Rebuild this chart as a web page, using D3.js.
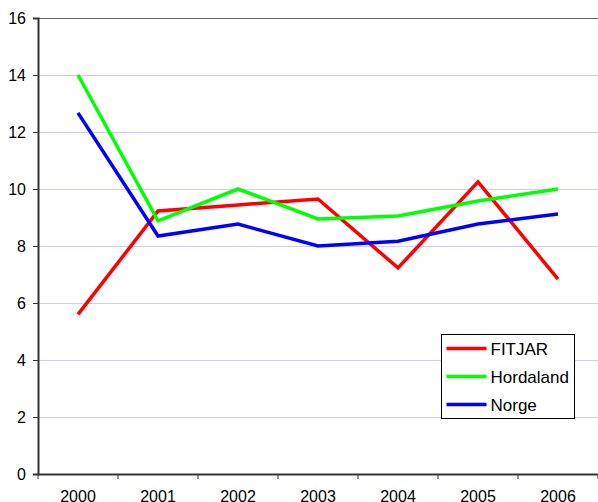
<!DOCTYPE html>
<html>
<head>
<meta charset="utf-8">
<script src="https://cdn.jsdelivr.net/npm/d3@7"></script>
<style>
  body { margin: 0; background: #fff; }
  svg { display: block; }
  svg text { font-family: "Liberation Sans", Arial, sans-serif; }
</style>
</head>
<body>
<svg></svg>
<script>
const years = ["2000", "2001", "2002", "2003", "2004", "2005", "2006"];
const fitjar = [5.6, 9.23, 9.44, 9.65, 7.23, 10.25, 6.84];
const hordaland = [14.0, 8.88, 10.0, 8.95, 9.05, 9.58, 10.0];
const norge = [12.67, 8.35, 8.77, 8.0, 8.17, 8.77, 9.12];
const yTicks = [0, 2, 4, 6, 8, 10, 12, 14, 16];

const series = [
  { name: "FITJAR", values: fitjar, color: "#ff0000" },
  { name: "Hordaland", values: hordaland, color: "#00ff00" },
  { name: "Norge", values: norge, color: "#0000ff" }
];

const svgWidth = 598;
const svgHeight = 502;
const margin = { top: 18, right: 0, bottom: 28, left: 38 };
const width = svgWidth - margin.left - margin.right;
const height = svgHeight - margin.top - margin.bottom;

const svg = d3.select("svg")
  .attr("width", svgWidth)
  .attr("height", svgHeight);

const g = svg.append("g")
  .attr("transform", "translate(" + margin.left + "," + margin.top + ")");

const xScale = d3.scaleBand()
  .domain(years)
  .range([0, width])
  .padding(0);

const yScale = d3.scaleLinear()
  .domain([0, 16])
  .range([height, 0]);

// gridlines
g.append("g")
  .selectAll("line")
  .data(yTicks.filter((d) => d > 0 && d < 16))
  .join("line")
  .attr("x1", 0)
  .attr("x2", width)
  .attr("y1", (d) => Math.round(yScale(d)) + 0.5)
  .attr("y2", (d) => Math.round(yScale(d)) + 0.5)
  .attr("stroke", "#ccccff")
  .attr("stroke-width", 1);

// top border
g.append("line")
  .attr("x1", 0)
  .attr("x2", width)
  .attr("y1", yScale(16) + 0.5)
  .attr("y2", yScale(16) + 0.5)
  .attr("stroke", "#666")
  .attr("stroke-width", 1);

// y axis
const yAxis = g.append("g")
  .call(d3.axisLeft(yScale).tickValues(yTicks).tickSize(5).tickPadding(7));
yAxis.attr("font-family", null).attr("font-size", 16);
yAxis.select(".domain").attr("stroke", "#333").attr("stroke-width", 2);
yAxis.selectAll(".tick line").attr("stroke", "#333");
yAxis.selectAll("text").attr("fill", "#000");

// x axis
const xAxis = g.append("g")
  .attr("transform", "translate(0," + height + ")")
  .call(d3.axisBottom(xScale).tickSize(0).tickPadding(17));
xAxis.attr("font-family", null).attr("font-size", 16);
xAxis.select(".domain").attr("stroke", "#333").attr("stroke-width", 2);
xAxis.selectAll("text").attr("fill", "#000");

xAxis.selectAll(".bound")
  .data(years.concat(["end"]))
  .join("line")
  .attr("class", "bound")
  .attr("x1", (d) => d === "end" ? width : xScale(d))
  .attr("x2", (d) => d === "end" ? width : xScale(d))
  .attr("y1", 0)
  .attr("y2", 5)
  .attr("stroke", "#333");

const line = d3.line()
  .x((d, i) => xScale(years[i]) + xScale.bandwidth() / 2)
  .y((d) => yScale(d));

g.selectAll(".series")
  .data(series)
  .join("path")
  .attr("class", "series")
  .attr("fill", "none")
  .attr("stroke", (d) => d.color)
  .attr("stroke-width", 3.5)
  .attr("stroke-linejoin", "miter")
  .attr("d", (d) => line(d.values));

// legend
const legend = svg.append("g")
  .attr("transform", "translate(441.5,334.5)");

legend.append("rect")
  .attr("width", 133)
  .attr("height", 84)
  .attr("fill", "#fff")
  .attr("stroke", "#000")
  .attr("stroke-width", 1);

const items = legend.selectAll(".item")
  .data(series)
  .join("g")
  .attr("class", "item")
  .attr("transform", (d, i) => "translate(0," + (14 + i * 28) + ")");

items.append("line")
  .attr("x1", 5)
  .attr("x2", 45)
  .attr("stroke", (d) => d.color)
  .attr("stroke-width", 3.5);

items.append("text")
  .attr("x", 49)
  .attr("dy", "0.36em")
  .attr("font-size", 17)
  .text((d) => d.name);
</script>
</body>
</html>
